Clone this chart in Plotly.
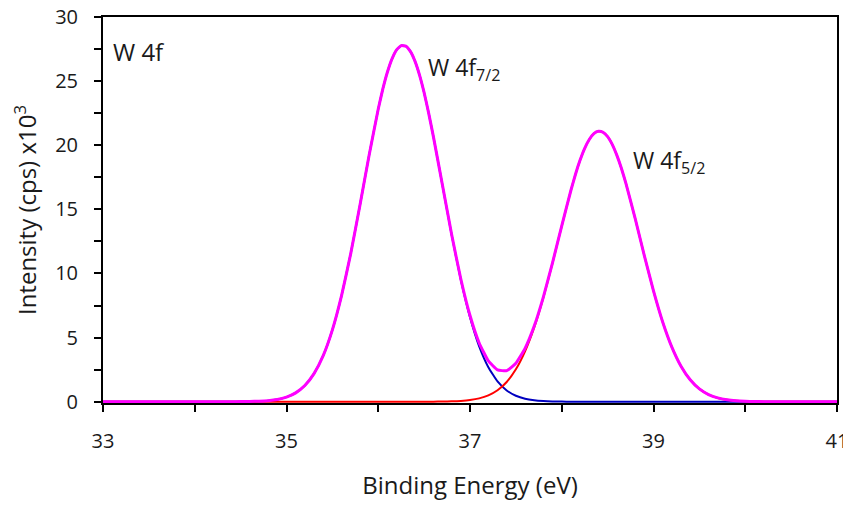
import plotly.graph_objects as go

# Binding energies (eV) and intensities (cps x10^3)
E_BLUE = [33.0, 34.4, 34.5, 34.6, 34.7, 34.8, 34.9, 35.0, 35.1, 35.2, 35.3, 35.4, 35.5, 35.6,
          35.7, 35.8, 35.9, 36.0, 36.05, 36.1, 36.15, 36.2, 36.25, 36.3, 36.35, 36.4, 36.45,
          36.5, 36.55, 36.6, 36.7, 36.8, 36.9,
          37.0, 37.1, 37.2, 37.3, 37.4, 37.5, 37.6, 37.7, 37.8, 37.9, 38.0, 38.1, 38.3, 41.0]
I_BLUE = [0.0, 0.0, 0.006, 0.015, 0.036, 0.081, 0.174, 0.356, 0.688, 1.26, 2.19, 3.59, 5.60, 8.27,
          11.55, 15.30, 19.20, 22.83, 24.39, 25.71, 26.74, 27.44, 27.77, 27.73, 27.32, 26.56, 25.47,
          24.10, 22.49, 20.71, 16.87, 13.01, 9.51,
          6.59, 4.32, 2.69, 1.58, 0.88, 0.466, 0.233, 0.111, 0.050, 0.021, 0.009, 0.003, 0.0, 0.0]

E_RED = [33.0, 36.5, 36.6, 36.7, 36.8, 36.9, 37.0, 37.1, 37.2, 37.3, 37.4, 37.5, 37.6, 37.7,
         37.8, 37.9, 38.0, 38.1, 38.15, 38.2, 38.25, 38.3, 38.35, 38.4, 38.45, 38.5, 38.55,
         38.6, 38.65, 38.7, 38.8, 38.9, 39.0,
         39.1, 39.2, 39.3, 39.4, 39.5, 39.6, 39.7, 39.8, 39.9, 40.0, 40.1, 40.2, 40.4, 41.0]
I_RED = [0.0, 0.0, 0.005, 0.012, 0.027, 0.061, 0.129, 0.259, 0.494, 0.896, 1.54, 2.53, 3.93, 5.79,
         8.13, 10.83, 13.71, 16.49, 17.74, 18.84, 19.76, 20.45, 20.91, 21.09, 21.01, 20.67, 20.07,
         19.23, 18.20, 17.01, 14.29, 11.40, 8.64,
         6.22, 4.26, 2.77, 1.71, 1.00, 0.559, 0.296, 0.149, 0.071, 0.032, 0.014, 0.006, 0.0, 0.0]

E_SUM = [33.0, 34.4, 34.5, 34.6, 34.7, 34.8, 34.9, 35.0, 35.1, 35.2, 35.3, 35.4, 35.5, 35.6,
         35.7, 35.8, 35.9, 36.0, 36.05, 36.1, 36.15, 36.2, 36.25, 36.3, 36.35, 36.4, 36.45,
         36.5, 36.55, 36.6, 36.7, 36.8, 36.9,
         37.0, 37.1, 37.2, 37.3, 37.4, 37.5, 37.6, 37.7, 37.8, 37.9, 38.0, 38.1, 38.15, 38.2,
         38.25, 38.3, 38.35, 38.4, 38.45, 38.5, 38.55, 38.6, 38.65, 38.7, 38.8, 38.9, 39.0,
         39.1, 39.2, 39.3, 39.4, 39.5,
         39.6, 39.7, 39.8, 39.9, 40.0, 40.1, 40.2, 40.4, 41.0]
I_SUM = [0.0, 0.0, 0.01, 0.02, 0.04, 0.08, 0.17, 0.36, 0.69, 1.26, 2.19, 3.59, 5.60, 8.27,
         11.55, 15.30, 19.20, 22.83, 24.39, 25.71, 26.74, 27.44, 27.77, 27.73, 27.32, 26.56, 25.47,
         24.10, 22.49, 20.71, 16.88, 13.04, 9.57,
         6.72, 4.58, 3.18, 2.48, 2.42, 3.00, 4.16, 5.90, 8.18, 10.85, 13.72, 16.49, 17.74, 18.84,
         19.76, 20.45, 20.91, 21.09, 21.01, 20.67, 20.07, 19.23, 18.20, 17.01, 14.29, 11.40, 8.64,
         6.22, 4.26, 2.77, 1.71, 1.00,
         0.559, 0.296, 0.149, 0.071, 0.032, 0.014, 0.006, 0.0, 0.0]

X_TICKS = [33, 35, 37, 39, 41]
Y_TICKS = [0, 5, 10, 15, 20, 25, 30]

FONT = "Open Sans"
TXT = "#1a1a1a"

fig = go.Figure()
fig.add_trace(go.Scatter(x=E_BLUE, y=I_BLUE, mode="lines",
                         line=dict(color="#0000C0", width=2, shape="spline", smoothing=0.4),
                         hoverinfo="skip"))
fig.add_trace(go.Scatter(x=E_RED, y=I_RED, mode="lines",
                         line=dict(color="#FF0000", width=2, shape="spline", smoothing=0.4),
                         hoverinfo="skip"))
fig.add_trace(go.Scatter(x=E_SUM, y=I_SUM, mode="lines",
                         line=dict(color="#FF00FF", width=3, shape="spline", smoothing=0.4),
                         hoverinfo="skip"))

fig.add_annotation(x=33.09, y=27.3, xref="x", yref="y", text="W 4f", showarrow=False,
                   xanchor="left", yanchor="middle", font=dict(family=FONT, size=24, color=TXT))
fig.add_annotation(x=36.52, y=26.0, xref="x", yref="y", text="W 4f<sub>7/2</sub>", showarrow=False,
                   xanchor="left", yanchor="middle", font=dict(family=FONT, size=23, color=TXT))
fig.add_annotation(x=38.76, y=18.7, xref="x", yref="y", text="W 4f<sub>5/2</sub>", showarrow=False,
                   xanchor="left", yanchor="middle", font=dict(family=FONT, size=23, color=TXT))

fig.update_xaxes(range=[33, 41], tickvals=X_TICKS, ticktext=[str(v) for v in X_TICKS],
                 ticks="outside", ticklen=7, tickwidth=2, tickcolor="black", ticklabelstandoff=12,
                 ticklabeloverflow="allow",
                 minor=dict(dtick=1, tick0=33, ticks="outside", ticklen=7, tickwidth=2, tickcolor="black"),
                 showline=True, linecolor="black", linewidth=2, mirror=True,
                 showgrid=False, zeroline=False, layer="below traces", automargin=False,
                 tickfont=dict(family=FONT, size=20, color=TXT),
                 title=dict(text="Binding Energy (eV)", font=dict(family=FONT, size=24, color=TXT),
                            standoff=27))
fig.update_yaxes(range=[-0.1, 30], tickvals=Y_TICKS, ticktext=[str(v) for v in Y_TICKS],
                 ticks="outside", ticklen=7, tickwidth=2, tickcolor="black", ticklabelstandoff=12,
                 ticklabeloverflow="allow",
                 minor=dict(dtick=2.5, tick0=0, ticks="outside", ticklen=7, tickwidth=2, tickcolor="black"),
                 showline=True, linecolor="black", linewidth=2, mirror=True,
                 showgrid=False, zeroline=False, layer="below traces", automargin=False,
                 tickfont=dict(family=FONT, size=20, color=TXT),
                 title=dict(text="Intensity (cps) x10<sup>3</sup>", font=dict(family=FONT, size=24, color=TXT),
                            standoff=18))

fig.update_layout(width=843, height=493, margin=dict(l=95, r=14, t=9, b=98),
                  plot_bgcolor="white", paper_bgcolor="white", showlegend=False)

fig.write_html("out.html")
